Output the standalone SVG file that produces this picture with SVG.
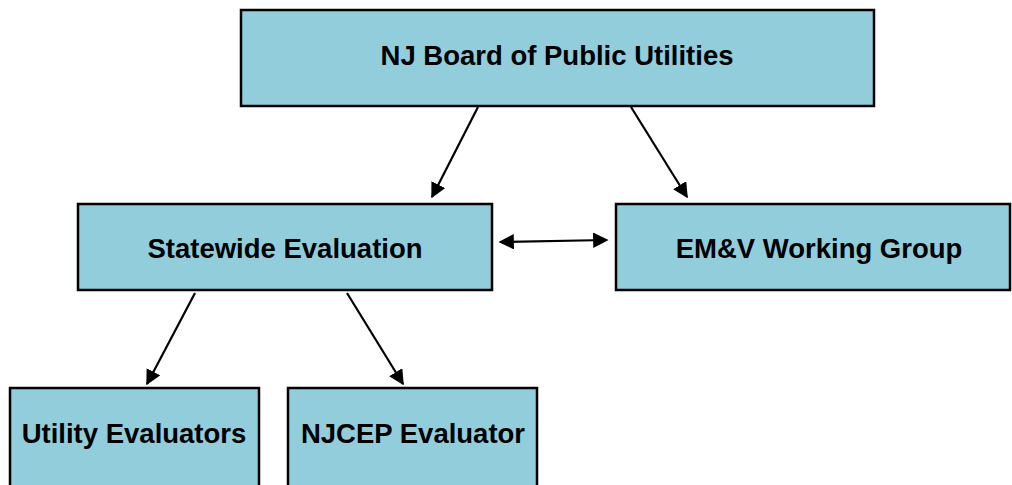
<svg xmlns="http://www.w3.org/2000/svg" width="1012" height="485" viewBox="0 0 1012 485">
<style>
.box{fill:#92CDDC;stroke:#000;stroke-width:2.5}
.lbl{font-family:"Liberation Sans",Arial,sans-serif;font-weight:bold;font-size:27.5px;fill:#000;text-anchor:middle}
.con{stroke:#000;stroke-width:2.2;fill:none}
</style>
<defs>
<marker id="ah" viewBox="0 0 10 10" refX="9" refY="5" markerWidth="7" markerHeight="7" markerUnits="strokeWidth" orient="auto-start-reverse">
<path d="M0,0 L10,5 L0,10 z" fill="#000"/>
</marker>
</defs>
<rect width="1012" height="485" fill="#fff"/>
<g id="bpu"><rect class="box" x="241" y="10" width="633" height="96"/><text class="lbl" x="557" y="65">NJ Board of Public Utilities</text></g>
<g id="statewide"><rect class="box" x="78" y="204" width="414" height="86"/><text class="lbl" x="285" y="258">Statewide Evaluation</text></g>
<g id="emv"><rect class="box" x="616" y="204" width="394" height="86"/><text class="lbl" x="819" y="258">EM&amp;V Working Group</text></g>
<g id="utility"><rect class="box" x="10" y="388" width="249" height="110"/><text class="lbl" x="134" y="443">Utility Evaluators</text></g>
<g id="njcep"><rect class="box" x="288" y="388" width="249" height="110"/><text class="lbl" x="413" y="443">NJCEP Evaluator</text></g>
<g id="connectors">
<line class="con" x1="478" y1="107" x2="432" y2="197" marker-end="url(#ah)"/>
<line class="con" x1="631" y1="107" x2="687" y2="197" marker-end="url(#ah)"/>
<line class="con" x1="500" y1="242" x2="607" y2="240" marker-start="url(#ah)" marker-end="url(#ah)"/>
<line class="con" x1="195" y1="293" x2="147" y2="384" marker-end="url(#ah)"/>
<line class="con" x1="347" y1="293" x2="403" y2="384" marker-end="url(#ah)"/>
</g>
</svg>
